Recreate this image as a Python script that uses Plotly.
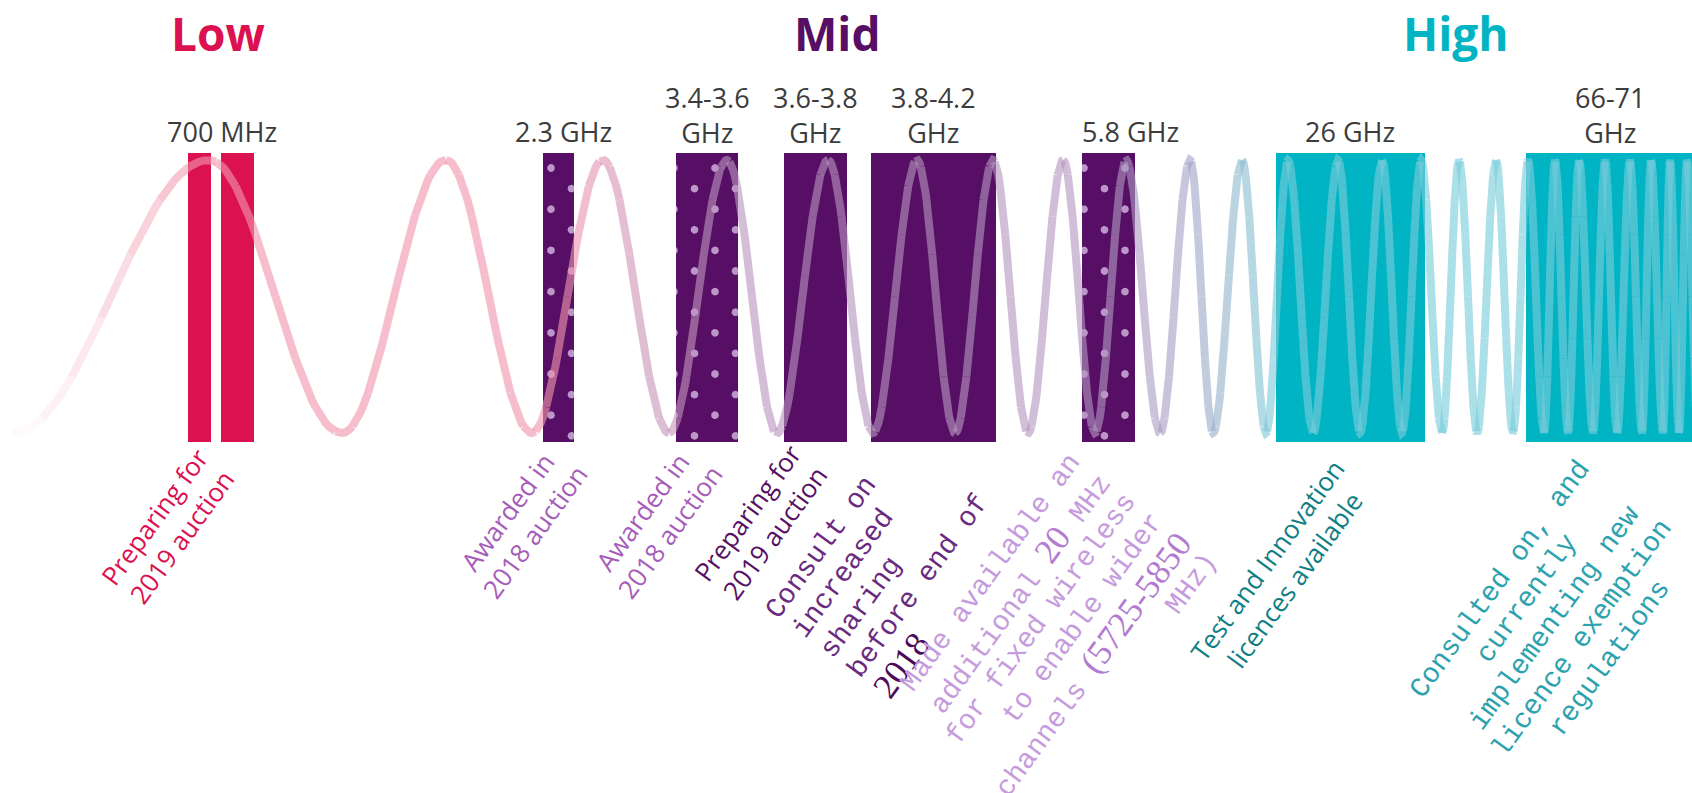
import math
import numpy as np
import plotly.graph_objects as go

# ---------------- data ----------------
group_titles = ["Low", "Mid", "High"]

band_labels = ["700 MHz", "700 MHz", "2.3 GHz", "3.4-3.6 GHz", "3.6-3.8 GHz",
               "3.8-4.2 GHz", "5.8 GHz", "26 GHz", "66-71 GHz"]
band_start = [188, 221, 543, 676, 784, 871, 1082, 1276, 1526]
band_end = [211, 254, 574, 738, 847, 996, 1135, 1425, 1692]
band_group = ["Low", "Low", "Mid", "Mid", "Mid", "Mid", "Mid", "High", "High"]
band_awarded_or_shared = [False, False, True, True, False, False, True, False, False]

top_labels = ["700 MHz", "2.3 GHz", "3.4-3.6<br>GHz", "3.6-3.8<br>GHz",
              "3.8-4.2<br>GHz", "5.8 GHz", "26 GHz", "66-71<br>GHz"]

# status notes written in the main (sans) font
sans_notes = [
    "Preparing for<br>2019 auction",
    "Awarded in<br>2018 auction",
    "Awarded in<br>2018 auction",
    "Preparing for<br>2019 auction",
    "Test and Innovation<br>licences available",
]
# status notes rendered in the fallback monospace font (pieces marked True
# were rendered in a serif face)
mono_notes = [
    [[("Consult on", False)], [("increased", False)], [("sharing", False)],
     [("before end of", False)], [("2018", True)]],
    [[("Made available an", False)],
     [("additional ", False), ("20", True), (" MHz", False)],
     [("for fixed wireless", False)], [("to enable wider", False)],
     [("channels ", False), ("(5725-5850", True)], [("MHz)", False)]],
    [[("Consulted on, and", False)], [("currently", False)], [("implementing new", False)],
     [("licence exemption", False)], [("regulations", False)]],
]

# wave crests / troughs (x positions)
wave_peaks_x = [209, 446, 603, 727, 828, 917, 993, 1063, 1126, 1190, 1242, 1288, 1338,
                1382, 1421, 1459, 1496, 1528, 1555, 1579, 1605, 1630, 1651, 1670, 1687]
wave_troughs_x = [13, 342, 532, 669, 777, 873, 955, 1028, 1095, 1160, 1213, 1266, 1313,
                  1360, 1402, 1442, 1477, 1513, 1544, 1568, 1593, 1617, 1642, 1663, 1679, 1698]

# ---------------- layout / style ----------------
W, H = 1692, 793
BAND_TOP, BAND_BOTTOM = 153, 442
WAVE_PEAK_Y, WAVE_TROUGH_Y = 160, 433
group_colors = {"Low": "#DC1150", "Mid": "#560F64", "High": "#00B4C4"}
title_x = [218, 837, 1455]
top_label_x = [222, 563, 707, 815, 933, 1130, 1350, 1610]

SANS = "Open Sans"
MONO = "Liberation Mono"
SERIF = "Liberation Serif"
ANGLE = 54.0
TH = math.radians(ANGLE)
U = (math.cos(TH), -math.sin(TH))   # along the text
V = (math.sin(TH), math.cos(TH))    # from one line to the next

sans_style = [
    dict(x=168, y=527, color="#DC1150"),
    dict(x=521, y=522, color="#A65DBA"),
    dict(x=656, y=522, color="#A65DBA"),
    dict(x=761, y=523, color="#561063"),
    dict(x=1281, y=570, color="#0E7E83"),
]
MONO_SIZE, SERIF_SIZE = 28, 35
mono_style = [
    dict(align="left", ref=(772, 615), spacing=33.7, color="#6A2A80", serif_color="#4B0A5A"),
    dict(align="right", ref=(1075, 457), spacing=33.8, color="#C69BDD", serif_color="#B27AD0"),
    dict(align="center", ref=(1500, 579), spacing=34.0, color="#2CA2AE", serif_color="#2CA2AE"),
]


def serif_width(s, size):
    return sum(0.5 if ch.isdigit() else 0.333 for ch in s) * size


fig = go.Figure()

# ---------------- bands ----------------
centers = [(a + b) / 2 for a, b in zip(band_start, band_end)]
widths = [b - a for a, b in zip(band_start, band_end)]
fig.add_trace(go.Bar(
    x=centers, width=widths,
    base=[BAND_TOP] * len(centers), y=[BAND_BOTTOM - BAND_TOP] * len(centers),
    marker=dict(color=[group_colors[g] for g in band_group], line=dict(width=0)),
    hoverinfo="skip", showlegend=False,
))

# dotted texture (clipped to each band) for awarded / shared bands
DOT_DX, DOT_DY, DOT_X0, DOT_Y0, DOT_R = 20.5, 20.6, 715.0, 168.0, 3.9
ang = np.linspace(0, 2 * np.pi, 21)
px_all, py_all = [], []
for a, b, dotted in zip(band_start, band_end, band_awarded_or_shared):
    if not dotted:
        continue
    i0 = int(np.floor((a - DOT_X0) / DOT_DX)) - 1
    i1 = int(np.ceil((b - DOT_X0) / DOT_DX)) + 1
    for i in range(i0, i1 + 1):
        cx = DOT_X0 + i * DOT_DX
        if cx + DOT_R < a + 0.8 or cx - DOT_R > b - 0.8:
            continue
        for j in range(-2, 20):
            if (i + j) % 2:
                continue
            cy = DOT_Y0 + j * DOT_DY
            if cy + DOT_R < BAND_TOP + 0.8 or cy - DOT_R > BAND_BOTTOM - 0.8:
                continue
            px = np.clip(cx + DOT_R * np.cos(ang), a, b)
            py = np.clip(cy + DOT_R * np.sin(ang), BAND_TOP, BAND_BOTTOM)
            px_all.extend(px.tolist() + [None])
            py_all.extend(py.tolist() + [None])
fig.add_trace(go.Scatter(
    x=px_all, y=py_all, mode="lines", fill="toself", fillcolor="#BC96C8",
    line=dict(width=0, color="#BC96C8"), hoverinfo="skip", showlegend=False,
))

# ---------------- wave ----------------
ext = sorted([(x, WAVE_PEAK_Y) for x in wave_peaks_x] +
             [(x, WAVE_TROUGH_Y) for x in wave_troughs_x])
wx, wy = [], []
for idx, ((xa, ya), (xb, yb)) in enumerate(zip(ext[:-1], ext[1:])):
    last = idx == len(ext) - 2
    t = np.linspace(0, 1, 41) if last else np.linspace(0, 1, 41)[:-1]
    wx.extend(xa + (xb - xa) * t)
    wy.extend(ya + (yb - ya) * (1 - np.cos(np.pi * t)) / 2)
wx, wy = np.array(wx), np.array(wy)

ALPHA = 0.62
grad_x = [13, 560, 640, 720, 1100, 1180, 1230, 1280, 1700]
grad_rgb = np.array([(246, 190, 204), (246, 190, 204), (224, 190, 211), (212, 189, 214),
                     (208, 190, 216), (200, 197, 220), (188, 210, 224), (172, 224, 232),
                     (172, 224, 232)], dtype=float)


def stroke_rgba(x):
    on_white = np.array([np.interp(x, grad_x, grad_rgb[:, k]) for k in range(3)])
    c = np.clip((on_white - (1 - ALPHA) * 255) / ALPHA, 0, 255)
    fade = np.clip((x - 5) / 190.0, 0, 1) ** 1.2
    return c, ALPHA * fade


CHUNK = 6
n = len(wx)
k = 0
while k < n - 1:
    e = min(k + CHUNK, n - 1)
    c, a = stroke_rgba(wx[(k + e) // 2])
    fig.add_trace(go.Scatter(
        x=wx[k:e + 1], y=wy[k:e + 1], mode="lines",
        line=dict(color=f"rgba({c[0]:.0f},{c[1]:.0f},{c[2]:.0f},{a:.3f})", width=8),
        hoverinfo="skip", showlegend=False,
    ))
    k = e

# ---------------- text ----------------
ann = []
for t, x in zip(group_titles, title_x):
    ann.append(dict(x=x, y=33, text=f"<b>{t}</b>", showarrow=False,
                    font=dict(family=SANS, size=46, color=group_colors[t]),
                    xanchor="center", yanchor="middle"))

for lab, x in zip(top_labels, top_label_x):
    y = 131 if "<br>" not in lab else 115
    ann.append(dict(x=x, y=y, text=lab, showarrow=False, align="center",
                    font=dict(family=SANS, size=27, color="#3C3C3C"),
                    xanchor="center", yanchor="middle"))

for txt, st in zip(sans_notes, sans_style):
    ann.append(dict(x=st["x"], y=st["y"], text=txt, showarrow=False, textangle=-ANGLE,
                    align="center", xanchor="center", yanchor="middle",
                    font=dict(family=SANS, size=26, color=st["color"])))

for lines, st in zip(mono_notes, mono_style):
    rx, ry = st["ref"]
    for li, pieces in enumerate(lines):
        w = 0.0
        html = ""
        for s, is_serif in pieces:
            if is_serif:
                w += serif_width(s, SERIF_SIZE)
                html += (f'<span style="font-family:Liberation Serif, Times New Roman, serif;'
                         f'font-size:{SERIF_SIZE}px;color:{st["serif_color"]}">{s}</span>')
            else:
                w += len(s) * 0.6 * MONO_SIZE
                html += s
        bx = rx + li * st["spacing"] * V[0]
        by = ry + li * st["spacing"] * V[1]
        if st["align"] == "left":
            cx, cy = bx + w / 2 * U[0], by + w / 2 * U[1]
        elif st["align"] == "right":
            cx, cy = bx - w / 2 * U[0], by - w / 2 * U[1]
        else:
            cx, cy = bx, by
        ann.append(dict(x=cx, y=cy, text=html, showarrow=False, textangle=-ANGLE,
                        xanchor="center", yanchor="middle",
                        font=dict(family=MONO, size=MONO_SIZE, color=st["color"])))

fig.update_layout(
    width=W, height=H, margin=dict(l=0, r=0, t=0, b=0),
    paper_bgcolor="white", plot_bgcolor="white",
    xaxis=dict(range=[0, W], visible=False, fixedrange=True),
    yaxis=dict(range=[H, 0], visible=False, fixedrange=True),
    annotations=ann, showlegend=False, bargap=0,
)

fig.write_html("out.html", config={"displayModeBar": False, "staticPlot": True},
               post_script="document.body.style.margin='0';document.body.style.overflow='hidden';")
